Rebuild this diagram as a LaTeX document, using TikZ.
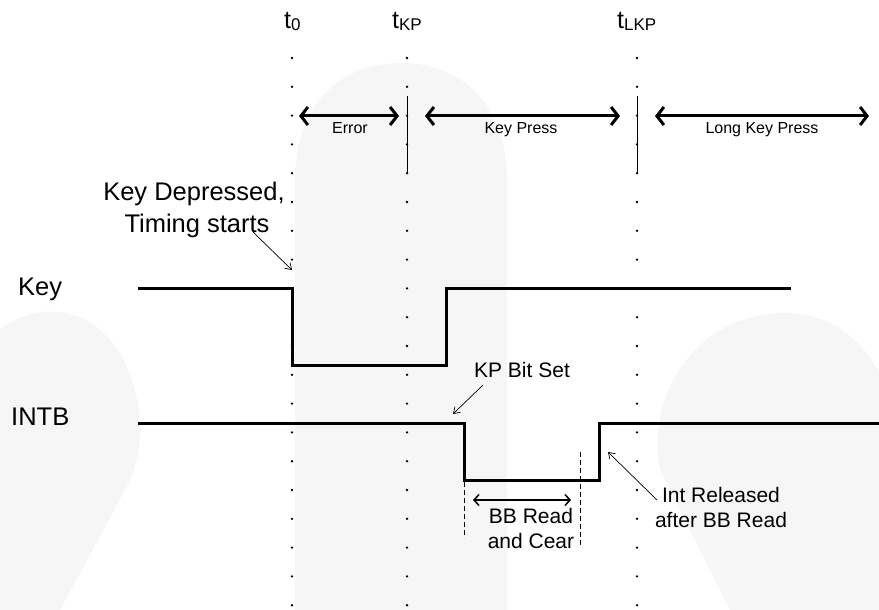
\documentclass[tikz,border=0pt]{standalone}
\usepackage{fontspec}
\setmainfont{Liberation Sans}
\usetikzlibrary{arrows.meta}
\begin{document}
\begin{tikzpicture}[x=1pt,y=-1pt,
  bgshape/.style={fill=black!3.5,draw=none},
  dotline/.style={line width=2.6pt,line cap=round,dash pattern=on 0pt off 28.8pt},
  mark line/.style={line width=1pt},
  period/.style={line width=3pt,{Straight Barb[length=7pt,width=18pt]}-{Straight Barb[length=7pt,width=18pt]}},
  signal/.style={line width=3pt,line join=miter},
  callout/.style={line width=0.7pt,-{Straight Barb[length=6pt,width=8pt,line width=0.7pt]}},
  readarrow/.style={line width=1.5pt,{Straight Barb[length=5pt,width=11pt]}-{Straight Barb[length=5pt,width=11pt]}},
  edge mark/.style={line width=0.8pt,dash pattern=on 5pt off 3pt},
  big/.style={font=\fontsize{25.5}{30}\selectfont,inner sep=0pt},
  mid/.style={font=\fontsize{21}{25}\selectfont,inner sep=0pt},
  small/.style={font=\fontsize{16}{19}\selectfont,inner sep=0pt}]
\useasboundingbox (0,0) rectangle (879,610);
% background watermark shapes
\path[bgshape] (295,610) -- (295,180) .. controls (295,105) and (340,63) .. (401,63) .. controls (462,63) and (507,105) .. (507,180) -- (507,610) -- cycle;
\path[bgshape] (0,330) .. controls (35,300) and (105,300) .. (132,380) .. controls (145,420) and (142,460) .. (125,490) -- (60,610) -- (0,610) -- cycle;
\path[bgshape] (660,470) .. controls (645,390) and (700,313) .. (785,313) .. controls (835,313) and (865,345) .. (879,372) -- (879,610) -- (730,610) -- cycle;
% time markers
\coordinate (t0top) at (292,58);   \coordinate (t0bot) at (292,607);
\coordinate (tkptop) at (407,58);  \coordinate (tkpbot) at (407,607);
\coordinate (tlkptop) at (637,58); \coordinate (tlkpbot) at (637,607);
\draw[dotline] (t0top) -- (t0bot);
\draw[dotline] (tkptop) -- (tkpbot);
\draw[dotline] (tlkptop) -- (tlkpbot);
\coordinate (kpa) at (407,96);  \coordinate (kpb) at (407,174);
\coordinate (lkpa) at (637,96); \coordinate (lkpb) at (637,174);
\draw[mark line] (kpa) -- (kpb);
\draw[mark line] (lkpa) -- (lkpb);
\node[anchor=base west,inner sep=0pt] (lt0) at (284,29) {\fontsize{25}{30}\selectfont t\raisebox{-1.5pt}{\fontsize{17}{20}\selectfont 0}};
\node[anchor=base west,inner sep=0pt] (ltkp) at (392,29) {\fontsize{25}{30}\selectfont t\raisebox{-1.5pt}{\fontsize{17}{20}\selectfont KP}};
\node[anchor=base west,inner sep=0pt] (ltlkp) at (617,29) {\fontsize{25}{30}\selectfont t\raisebox{-1.5pt}{\fontsize{17}{20}\selectfont LKP}};
% periods
\coordinate (ea) at (299,116); \coordinate (eb) at (399,116);
\coordinate (ka) at (425,116); \coordinate (kb) at (620,116);
\coordinate (la) at (655,116); \coordinate (lb) at (869,116);
\draw[period] (ea) -- (eb);
\draw[period] (ka) -- (kb);
\draw[period] (la) -- (lb);
\node[small,anchor=base] (lerr) at (350,133) {Error};
\node[small,anchor=base] (lkp) at (521,133) {Key Press};
\node[small,anchor=base] (llkp) at (762,133) {Long Key Press};
% signal names
\node[big,anchor=base west] (keyname) at (18,295) {Key};
\node[big,anchor=base west] (intbname) at (11,425) {INTB};
% Key waveform
\coordinate (k0) at (138,288); \coordinate (k1) at (292,288); \coordinate (k2) at (292,365);
\coordinate (k3) at (446,365); \coordinate (k4) at (446,288); \coordinate (k5) at (791,288);
\draw[signal] (k0) -- (k1) -- (k2) -- (k3) -- (k4) -- (k5);
% INTB waveform
\coordinate (i0) at (138,423); \coordinate (i1) at (464,423); \coordinate (i2) at (464,480);
\coordinate (i3) at (599,480); \coordinate (i4) at (599,423); \coordinate (i5) at (880,423);
\draw[signal] (i0) -- (i1) -- (i2) -- (i3) -- (i4) -- (i5);
% Key depressed callout
\node[big,anchor=base] (kd1) at (194,200) {Key Depressed,};
\node[big,anchor=base] (kd2) at (197,232) {Timing starts};
\coordinate (kdfrom) at (253,232); \coordinate (kdto) at (292,270);
\draw[callout] (kdfrom) -- (kdto);
% KP bit set
\node[mid,anchor=base] (kpbit) at (522,377) {KP Bit Set};
\coordinate (kpfrom) at (483,385); \coordinate (kpto) at (453,414);
\draw[callout] (kpfrom) -- (kpto);
% BB read
\coordinate (da) at (464,482); \coordinate (db) at (464,538);
\coordinate (dc) at (580,452); \coordinate (dd) at (580,547);
\draw[edge mark] (da) -- (db);
\draw[edge mark] (dc) -- (dd);
\coordinate (ra) at (473,500); \coordinate (rb) at (571,500);
\draw[readarrow] (ra) -- (rb);
\node[mid,anchor=base] (bb1) at (531,523) {BB Read};
\node[mid,anchor=base] (bb2) at (531,548) {and Cear};
% Int released
\node[mid,anchor=base] (ir1) at (721,502) {Int Released};
\node[mid,anchor=base] (ir2) at (721,527) {after BB Read};
\coordinate (irfrom) at (657,500); \coordinate (irto) at (608,452);
\draw[callout] (irfrom) -- (irto);
\end{tikzpicture}
\end{document}
